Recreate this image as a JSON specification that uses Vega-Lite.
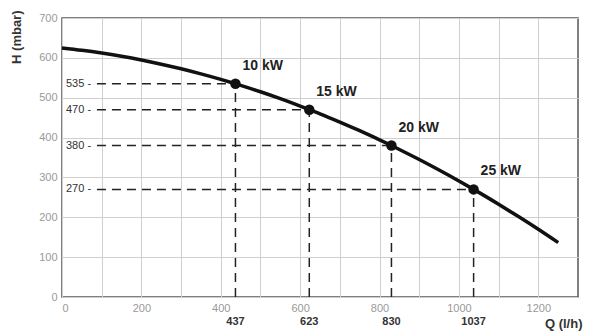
{
  "$schema": "https://vega.github.io/schema/vega-lite/v6.json",
  "autosize": "none",
  "width": 516,
  "height": 279,
  "padding": {"left": 62, "top": 18, "right": 12, "bottom": 36},
  "background": "white",
  "config": {
    "view": {"stroke": "#555555", "strokeWidth": 1.5},
    "font": "Liberation Sans"
  },
  "datasets": {
    "curve": [
      {"Q": 0, "H": 625}, {"Q": 50, "H": 619.1}, {"Q": 100, "H": 612.1}, {"Q": 150, "H": 603.9},
      {"Q": 200, "H": 594.6}, {"Q": 250, "H": 584.1}, {"Q": 300, "H": 572.6}, {"Q": 350, "H": 559.8},
      {"Q": 400, "H": 546.0}, {"Q": 437, "H": 535}, {"Q": 450, "H": 531.0}, {"Q": 500, "H": 514.9},
      {"Q": 550, "H": 497.6}, {"Q": 600, "H": 479.2}, {"Q": 623, "H": 470}, {"Q": 650, "H": 459.7},
      {"Q": 700, "H": 439.0}, {"Q": 750, "H": 417.2}, {"Q": 800, "H": 394.2}, {"Q": 830, "H": 380},
      {"Q": 850, "H": 370.2}, {"Q": 900, "H": 345.0}, {"Q": 950, "H": 318.6}, {"Q": 1000, "H": 291.1},
      {"Q": 1037, "H": 270}, {"Q": 1050, "H": 262.5}, {"Q": 1100, "H": 232.7}, {"Q": 1150, "H": 201.8},
      {"Q": 1200, "H": 169.8}, {"Q": 1250, "H": 136.5}
    ],
    "pts": [
      {"Q": 437, "H": 535, "kw": "10 kW", "hl": "535 -", "ql": "437", "start": 88},
      {"Q": 623, "H": 470, "kw": "15 kW", "hl": "470 -", "ql": "623", "start": 88},
      {"Q": 830, "H": 380, "kw": "20 kW", "hl": "380 -", "ql": "830", "start": 88},
      {"Q": 1037, "H": 270, "kw": "25 kW", "hl": "270 -", "ql": "1037", "start": 88}
    ]
  },
  "encoding": {
    "x": {
      "field": "Q", "type": "quantitative",
      "scale": {"domain": [0, 1300], "nice": false, "zero": true},
      "axis": {
        "values": [0, 100, 200, 300, 400, 500, 600, 700, 800, 900, 1000, 1100, 1200],
        "labelExpr": "datum.value % 200 == 0 ? format(datum.value, 'd') : ''",
        "ticks": false, "domain": false, "labelColor": "#999999", "labelFontSize": 11,
        "labelPadding": 5, "grid": true, "gridColor": "#cfcfcf", "gridWidth": 1,
        "title": "Q (l/h)", "titleAnchor": "end", "titleAlign": "right", "titleBaseline": "middle",
        "titleX": 520, "titleY": 26, "titleFontSize": 13, "titleFontWeight": "bold", "titleColor": "#333333"
      }
    },
    "y": {
      "field": "H", "type": "quantitative",
      "scale": {"domain": [0, 700], "nice": false},
      "axis": {
        "values": [0, 100, 200, 300, 400, 500, 600, 700],
        "ticks": false, "domain": false, "labelColor": "#999999", "labelFontSize": 11,
        "labelPadding": 5, "grid": true, "gridColor": "#cfcfcf", "gridWidth": 1,
        "title": "H (mbar)", "titleAngle": -90, "titleAlign": "right", "titleBaseline": "middle",
        "titleX": -46, "titleY": -8, "titleFontSize": 13, "titleFontWeight": "bold", "titleColor": "#333333"
      }
    }
  },
  "layer": [
    {
      "data": {"name": "pts"},
      "mark": {"type": "rule", "color": "#222222", "strokeWidth": 1.5, "strokeDash": [9, 6]},
      "encoding": {"x": {"field": "start", "type": "quantitative"}, "x2": {"field": "Q"}, "y": {"field": "H", "type": "quantitative"}}
    },
    {
      "data": {"name": "pts"},
      "mark": {"type": "rule", "color": "#222222", "strokeWidth": 1.5, "strokeDash": [9, 6]},
      "encoding": {"x": {"field": "Q", "type": "quantitative"}, "y": {"datum": 0}, "y2": {"field": "H"}}
    },
    {
      "data": {"name": "curve"},
      "mark": {"type": "line", "color": "#111111", "strokeWidth": 3.5, "interpolate": "monotone"},
      "encoding": {}
    },
    {
      "data": {"name": "pts"},
      "mark": {"type": "point", "filled": true, "color": "#111111", "size": 110, "opacity": 1},
      "encoding": {}
    },
    {
      "data": {"name": "pts"},
      "mark": {"type": "text", "align": "left", "baseline": "middle", "dx": 7, "dy": -18, "fontSize": 14, "fontWeight": "bold", "color": "#222222"},
      "encoding": {"text": {"field": "kw"}}
    },
    {
      "data": {"name": "pts"},
      "mark": {"type": "text", "align": "left", "baseline": "middle", "dx": 4, "fontSize": 11, "color": "#333333"},
      "encoding": {"x": {"datum": 0}, "text": {"field": "hl"}}
    },
    {
      "data": {"name": "pts"},
      "mark": {"type": "text", "align": "center", "baseline": "middle", "dy": 25, "fontSize": 11, "fontWeight": "bold", "color": "#333333"},
      "encoding": {"y": {"datum": 0}, "text": {"field": "ql"}}
    }
  ]
}
